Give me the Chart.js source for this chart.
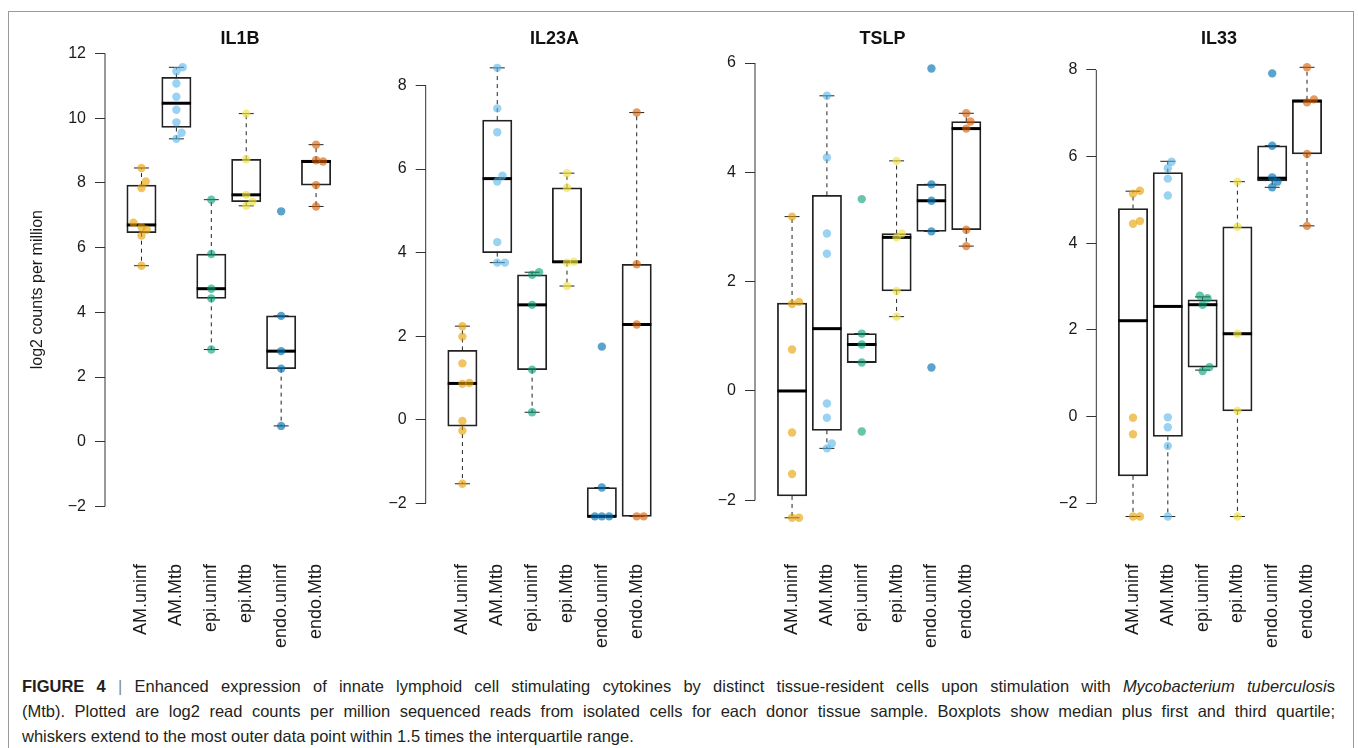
<!DOCTYPE html>
<html><head><meta charset="utf-8">
<script src="https://cdn.jsdelivr.net/npm/chart.js@4.4.1/dist/chart.umd.min.js"></script>
<style>
html,body{margin:0;padding:0;background:#fff;overflow:hidden;}
body{width:1358px;height:748px;position:relative;font-family:"Liberation Sans",Arial,Helvetica,sans-serif;}
#frame{position:absolute;left:8px;top:11px;width:1346px;height:800px;border:1px solid #9b9b9b;border-bottom:none;box-sizing:border-box;}
canvas{position:absolute;}
#caption{position:absolute;left:22px;top:674px;width:1313px;font-size:16.5px;line-height:25px;color:#231f20;}
#caption .j{text-align:justify;text-align-last:justify;white-space:nowrap;}
#caption .bar{color:#8a8a8a;}
</style></head><body>
<div id="frame"></div>
<canvas id="c0"></canvas><canvas id="c1"></canvas><canvas id="c2"></canvas><canvas id="c3"></canvas>
<div id="caption"><div class="j"><b>FIGURE 4</b> <span class="bar">|</span> Enhanced expression of innate lymphoid cell stimulating cytokines by distinct tissue-resident cells upon stimulation with <i>Mycobacterium tuberculosi</i>s</div><div class="j">(Mtb). Plotted are log2 read counts per million sequenced reads from isolated cells for each donor tissue sample. Boxplots show median plus first and third quartile;</div><div>whiskers extend to the most outer data point within 1.5 times the interquartile range.</div></div>
<script>
// ---------- data ----------
const categories = ['AM.uninf','AM.Mtb','epi.uninf','epi.Mtb','endo.uninf','endo.Mtb'];
const genes = ['IL1B','IL23A','TSLP','IL33'];
const yTickMin = [-2,-2,-2,-2];
const yTickMax = [12,8,6,8];
const yTickStep = 2;
const yAxisLabel = 'log2 counts per million';
const pointColors = ['rgba(230,159,0,0.62)','rgba(86,180,233,0.6)','rgba(0,158,115,0.6)','rgba(240,228,66,0.65)','rgba(0,114,178,0.65)','rgba(213,94,0,0.62)'];

// IL1B
const il1bValues = [[8.46,8.04,7.84,6.77,6.63,6.55,6.37,5.44],[11.57,11.45,11.07,10.66,10.26,9.87,9.55,9.36],[7.48,5.80,4.73,4.43,2.85],[10.14,8.73,7.63,7.42,7.29],[7.12,3.89,2.80,2.26,0.49],[9.18,8.70,8.66,7.93,7.27]];
const il1bJitter = [[0,0.12,0,-0.23,0,0.15,0,0],[0.18,0,0,0,0,0,0.15,0],[0,0,0,0,0],[0,0,0,0.18,0],[0,0,0,0,0],[0,0,0.2,0,0]];
const il1bQ1 = [6.46,9.71,4.43,7.42,2.26,7.93];
const il1bMedian = [6.70,10.46,4.73,7.63,2.80,8.66];
const il1bQ3 = [7.93,11.26,5.80,8.73,3.89,8.70];
const il1bLow = [5.44,9.36,2.85,7.29,0.49,7.27];
const il1bHigh = [8.46,11.57,7.48,10.14,3.89,9.18];

// IL23A
const il23aValues = [[2.24,1.99,1.35,0.88,0.86,-0.03,-0.26,-1.53],[8.42,7.45,6.88,5.84,5.70,4.25,3.76,3.76],[3.53,3.47,2.75,1.20,0.18],[5.90,5.55,3.78,3.76,3.20],[1.75,-1.62,-2.31,-2.31,-2.31],[7.35,3.72,2.28,-2.31,-2.31]];
const il23aJitter = [[0,0,0,0.2,0,0,0,0],[0,0,0,0.15,0,0,0,0.22],[0.2,0,0,0,0],[0,0,0.2,0,0],[0,0,-0.2,0,0.21],[0,0,0,0,0.2]];
const il23aQ1 = [-0.15,4.00,1.20,3.76,-2.31,-2.31];
const il23aMedian = [0.87,5.77,2.75,3.78,-2.31,2.28];
const il23aQ3 = [1.66,7.17,3.47,5.55,-1.62,3.72];
const il23aLow = [-1.53,3.76,0.18,3.20,-2.31,-2.31];
const il23aHigh = [2.24,8.42,3.53,5.90,-1.62,7.35];

// TSLP
const tslpValues = [[3.19,1.63,1.59,0.76,-0.76,-1.52,-2.32,-2.32],[5.40,4.27,2.88,2.51,-0.23,-0.49,-0.96,-1.05],[3.51,1.05,0.85,0.52,-0.74],[4.21,2.88,2.81,1.83,1.36],[5.90,3.78,3.48,2.92,0.43],[5.08,4.93,4.80,2.95,2.65]];
const tslpJitter = [[0,0.2,0,0,0,0,0,0.2],[0,0,0,0,0,0,0.14,0],[0,0,0,0,0],[0,0.15,0,0,0],[0,0,0,0,0],[0,0.12,0,0,0]];
const tslpQ1 = [-1.92,-0.72,0.52,1.83,2.92,2.95];
const tslpMedian = [0.00,1.14,0.85,2.81,3.48,4.80];
const tslpQ3 = [1.61,3.58,1.05,2.88,3.78,4.93];
const tslpLow = [-2.32,-1.05,0.52,1.36,2.92,2.65];
const tslpHigh = [3.19,5.40,1.05,4.21,3.78,5.08];

// IL33
const il33Values = [[5.21,5.14,4.51,4.45,-0.03,-0.41,-2.31,-2.31],[5.88,5.73,5.49,5.10,-0.02,-0.25,-0.68,-2.31],[2.79,2.73,2.58,1.14,1.05],[5.42,4.38,1.91,0.13,-2.31],[7.92,6.25,5.52,5.42,5.29],[8.06,7.32,7.25,6.06,4.40]];
const il33Jitter = [[0.2,0,0.2,0,0,0,0,0.2],[0.11,0,0,0,0,0,0,0],[-0.08,0.14,0,0.2,0],[0,0,0,0,0],[0,0,0,0.15,0],[0,0.2,0,0,0]];
const il33Q1 = [-1.37,-0.46,1.14,0.13,5.44,6.06];
const il33Median = [2.21,2.54,2.58,1.91,5.50,7.28];
const il33Q3 = [4.80,5.63,2.69,4.38,6.25,7.31];
const il33Low = [-2.31,-2.31,1.07,-2.31,5.29,4.40];
const il33High = [5.20,5.89,2.76,5.42,6.25,8.06];

const panelData = [
  {values:il1bValues, jitter:il1bJitter, q1:il1bQ1, med:il1bMedian, q3:il1bQ3, lo:il1bLow, hi:il1bHigh},
  {values:il23aValues, jitter:il23aJitter, q1:il23aQ1, med:il23aMedian, q3:il23aQ3, lo:il23aLow, hi:il23aHigh},
  {values:tslpValues, jitter:tslpJitter, q1:tslpQ1, med:tslpMedian, q3:tslpQ3, lo:tslpLow, hi:tslpHigh},
  {values:il33Values, jitter:il33Jitter, q1:il33Q1, med:il33Median, q3:il33Q3, lo:il33Low, hi:il33High}
];

// ---------- layout (page pixels) ----------
const panelLayout = [
  {axisX:105,   top:53.4, bottom:506.5, firstCat:143.3, titleX:240},
  {axisX:425.7, top:85.4, bottom:503.4, firstCat:464.3, titleX:554.3},
  {axisX:755,   top:63.0, bottom:500.3, firstCat:794,   titleX:882.7},
  {axisX:1096.3,top:69.9, bottom:503.1, firstCat:1135,  titleX:1219}
];
const catSpacing = 36.67;
const boxWidth = 0.8*catSpacing;
const canvasTop = 12, canvasH = 640;
const titleCenterY = 38.6;
const labelTopY = 564;
const FAMILY = '"Liberation Sans", Arial, Helvetica, sans-serif';
const TXT = '#1a1a1a';

function makePanel(idx){
  const d = panelData[idx], lay = panelLayout[idx];
  const yMinT = yTickMin[idx], yMaxT = yTickMax[idx];
  const pxu = (lay.bottom - lay.top)/(yMaxT - yMinT);
  // extend the value range a little so marks beyond the end ticks are still drawn
  let dataMax = -Infinity;
  d.values.forEach(a => a.forEach(v => { if (v > dataMax) dataMax = v; }));
  const extTop = Math.max(0.1, dataMax - yMaxT + 6/pxu);
  const extBottom = 0.7;
  const yMin = yMinT - extBottom, yMax = yMaxT + extTop;
  const chartTop = lay.top - extTop*pxu;
  const chartBottom = lay.bottom + extBottom*pxu;

  const L = Math.floor(lay.axisX - 100);
  const yAxisW = lay.axisX - L;
  const W = Math.round(2*(lay.titleX - L));
  const cv = document.getElementById('c'+idx);
  cv.width = W; cv.height = canvasH;
  cv.style.left = L+'px'; cv.style.top = canvasTop+'px';
  cv.style.width = W+'px'; cv.style.height = canvasH+'px';
  const xMin = 1 - (lay.firstCat - lay.axisX)/catSpacing;
  const xMax = xMin + (L + W - lay.axisX)/catSpacing;
  const titleLH = 18*1.2;
  const titlePadTop = (titleCenterY - canvasTop) - titleLH/2;
  const titlePadBottom = Math.max(0, (chartTop - canvasTop) - titlePadTop - titleLH);

  const datasets = [];
  categories.forEach((c,i)=>{
    datasets.push({type:'scatter', label:c, clip:false, order:0,
      data: d.values[i].map((v,j)=>({x:i+1+d.jitter[i][j], y:v})),
      pointRadius:4.2, pointBackgroundColor:pointColors[i], pointBorderWidth:0, pointBorderColor:'rgba(0,0,0,0)'});
  });
  datasets.push({type:'scatter', label:'median', clip:false, order:1,
    data: categories.map((c,i)=>({x:i+1, y:d.med[i]})),
    pointStyle:'line', pointRadius:boxWidth/2, pointBorderWidth:3, pointBorderColor:'#000'});
  const caps = [];
  categories.forEach((c,i)=>{ caps.push({x:i+1,y:d.hi[i]}); caps.push({x:i+1,y:d.lo[i]}); });
  datasets.push({type:'scatter', label:'caps', clip:false, order:2, data:caps,
    pointStyle:'line', pointRadius:7.5, pointBorderWidth:1, pointBorderColor:'#222'});
  const whisk = [];
  categories.forEach((c,i)=>{
    whisk.push({x:i+1,y:d.q3[i]},{x:i+1,y:d.hi[i]},{x:i+1,y:null});
    whisk.push({x:i+1,y:d.q1[i]},{x:i+1,y:d.lo[i]},{x:i+1,y:null});
  });
  datasets.push({type:'line', label:'whiskers', clip:false, order:3, data:whisk,
    borderColor:'#222', borderWidth:1, borderDash:[4,4], pointRadius:0, spanGaps:false, fill:false, tension:0});
  datasets.push({type:'bar', label:'box', clip:false, order:4, grouped:false,
    data: categories.map((c,i)=>({x:i+1, y:[d.q1[i], d.q3[i]]})),
    backgroundColor:'rgba(255,255,255,0)', borderColor:'#222', borderWidth:1.1, borderSkipped:false, barThickness:boxWidth});
  // y axis line, drawn only between the first and last tick (R style)
  datasets.push({type:'line', label:'yaxis', clip:false, order:5,
    data:[{x:xMin, y:yMinT},{x:xMin, y:yMaxT}],
    borderColor:'#333', borderWidth:1, pointRadius:0, fill:false});

  const yTicks = [];
  for (let v = yMinT; v <= yMaxT + 1e-9; v += yTickStep) yTicks.push({value:v});

  new Chart(cv, {
    type:'scatter',
    data:{datasets},
    options:{
      responsive:false, animation:false, devicePixelRatio:1, events:[],
      layout:{padding:0},
      plugins:{
        legend:{display:false}, tooltip:{enabled:false},
        title:{display:true, text:genes[idx], color:'#111', font:{family:FAMILY, size:18, weight:'bold'},
          padding:{top:titlePadTop, bottom:titlePadBottom}}
      },
      scales:{
        x:{type:'linear', min:xMin, max:xMax, offset:false,
          afterBuildTicks: s => { s.ticks = categories.map((c,i)=>({value:i+1})); },
          afterFit: s => { s.height = canvasTop + canvasH - chartBottom; },
          ticks:{autoSkip:false, minRotation:90, maxRotation:90, padding: labelTopY - chartBottom,
            color:TXT, font:{family:FAMILY, size:18},
            callback: v => categories[Math.round(v)-1] ?? ''},
          grid:{display:false, drawTicks:false}, border:{display:false}},
        y:{type:'linear', min:yMin, max:yMax,
          afterBuildTicks: s => { s.ticks = yTicks.map(t => ({value:t.value})); },
          afterFit: s => { s.width = yAxisW; },
          ticks:{color:TXT, padding:9, font:{family:FAMILY, size:16},
            callback: v => (v < 0 ? '\u2212' + Math.abs(v) : String(v))},
          grid:{display:true, drawOnChartArea:false, drawTicks:true, tickLength:10, color:'#333', lineWidth:1},
          border:{display:false},
          title: idx===0 ? {display:true, text:yAxisLabel, color:TXT, font:{family:FAMILY, size:16},
            padding:{top:(37.7 - L) - 9.6, bottom:0}} : {display:false}}
      }
    }
  });
}
for (let i=0;i<4;i++) makePanel(i);
</script>
</body></html>
